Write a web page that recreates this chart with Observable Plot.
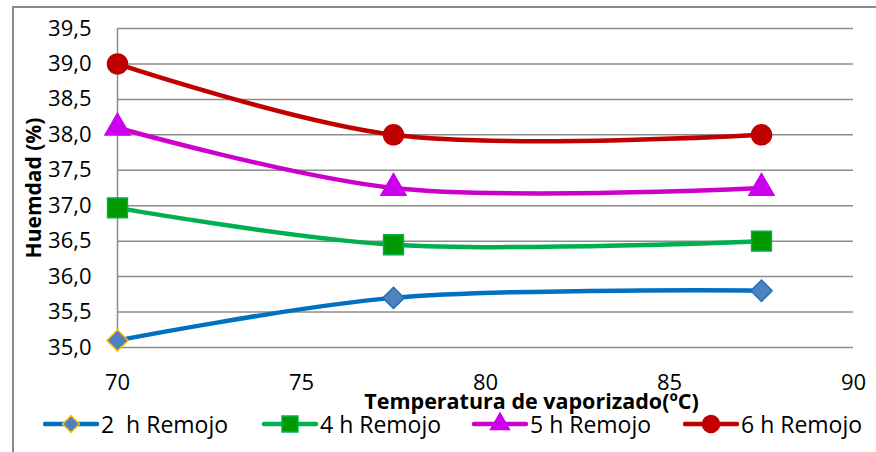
<!DOCTYPE html>
<html>
<head>
<meta charset="utf-8">
<script src="https://cdn.jsdelivr.net/npm/d3@7"></script>
<script src="https://cdn.jsdelivr.net/npm/@observablehq/plot@0.6"></script>
<style>
  html, body { margin: 0; padding: 0; background: #fff; }
  #wrap { position: relative; width: 876px; height: 452px; overflow: hidden; font-family: "Open Sans", sans-serif; }
  #frame { position: absolute; left: 12px; top: 6px; width: 900px; height: 500px; border-left: 2px solid #8a8a8a; border-top: 2px solid #8a8a8a; box-sizing: border-box; }
  #chart { position: absolute; left: 0; top: 0; }
  .leg { position: absolute; top: 411px; height: 26px; display: flex; align-items: center; font-size: 23px; white-space: pre; color: #000; }
  .leg svg { display: block; }
</style>
</head>
<body>
<div id="wrap">
  <div id="frame"></div>
  <div id="chart"></div>
  <div id="legend"></div>
</div>
<script>
// ---- data ----
const temperatures = [70, 77.5, 87.5];
const seriesNames = ["2  h Remojo", "4 h Remojo", "5 h Remojo", "6 h Remojo"];
const remojo2h = [35.1, 35.7, 35.8];
const remojo4h = [36.97, 36.45, 36.5];
const remojo5h = [38.1, 37.25, 37.25];
const remojo6h = [39.0, 38.0, 38.0];
const yTicks = [35, 35.5, 36, 36.5, 37, 37.5, 38, 38.5, 39, 39.5];
const xTicks = [70, 75, 80, 85, 90];
const xTitle = "Temperatura de vaporizado(ºC)";
const yTitle = "Huemdad (%)";

// ---- styles ----
const styles = [
  {line: "#0070C0", fill: "#4F81BD", stroke: "#1F6FBF", firstStroke: "#FFC000", symbol: "diamond2", r: 9.6, legendR: 7.6},
  {line: "#00B050", fill: "#009900", stroke: "#00B050", symbol: "square", r: 11.2, legendR: 9},
  {line: "#CC00CC", fill: "#CC00EE", stroke: "#CC00EE", symbol: "triangle", r: 9.3, legendR: 7},
  {line: "#C00000", fill: "#C00000", stroke: "#C00000", symbol: "circle", r: 10, legendR: 8.5}
];

const allValues = [remojo2h, remojo4h, remojo5h, remojo6h];
const rows = seriesNames.flatMap((s, i) => temperatures.map((t, j) => ({series: s, idx: i, j, temp: t, value: allValues[i][j]})));

const fmt = d => d3.format(".1f")(d).replace(".", ",");

const marks = [
  Plot.ruleY(yTicks, {stroke: "#8c8c8c", strokeWidth: 1.5, strokeOpacity: 1}),
  Plot.ruleX([70], {stroke: "#8c8c8c", strokeWidth: 1.5, strokeOpacity: 1}),
  Plot.axisY({ticks: yTicks, tickSize: 0, tickPadding: 26, tickFormat: fmt, fontSize: 22, label: null}),
  Plot.axisX({ticks: xTicks, tickSize: 0, tickPadding: 27, fontSize: 22, label: null}),
  Plot.text([yTitle], {frameAnchor: "left", textAnchor: "middle", lineAnchor: "middle", dx: -83, rotate: -90, fontWeight: "bold", fontSize: 21, text: d => d}),
  Plot.text([xTitle], {frameAnchor: "bottom", textAnchor: "middle", lineAnchor: "middle", dx: 46, dy: 55, fontWeight: "bold", fontSize: 21.5, text: d => d})
];

seriesNames.forEach((s, i) => {
  const st = styles[i];
  const data = rows.filter(d => d.idx === i);
  marks.push(Plot.line(data, {x: "temp", y: "value", stroke: st.line, strokeWidth: 4.5, curve: "catmull-rom"}));
});
seriesNames.forEach((s, i) => {
  const st = styles[i];
  const data = rows.filter(d => d.idx === i);
  marks.push(Plot.dot(data, {x: "temp", y: "value", symbol: st.symbol, r: st.r, fill: st.fill, stroke: d => (st.firstStroke && d.j === 0) ? st.firstStroke : st.stroke, strokeWidth: 1.5}));
});

const chart = Plot.plot({
  width: 876,
  height: 452,
  marginLeft: 117,
  marginRight: 23,
  marginTop: 28,
  marginBottom: 105,
  x: {domain: [70, 90], axis: null},
  y: {domain: [35, 39.5], axis: null},
  color: {type: "identity"},
  style: {fontFamily: "Open Sans, sans-serif", color: "#000", background: "transparent", overflow: "visible"},
  marks
});
document.getElementById("chart").appendChild(chart);

// ---- legend ----
const legendPos = [43, 262, 472, 683];
const legend = document.getElementById("legend");
seriesNames.forEach((s, i) => {
  const st = styles[i];
  const item = document.createElement("div");
  item.className = "leg";
  item.style.left = legendPos[i] + "px";
  const sw = d3.create("svg").attr("width", 58).attr("height", 26);
  sw.append("line").attr("x1", 2).attr("x2", 54).attr("y1", 13).attr("y2", 13)
    .attr("stroke", st.line).attr("stroke-width", 4.5).attr("stroke-linecap", "round");
  const symMap = {diamond2: d3.symbolDiamond2, square: d3.symbolSquare, triangle: d3.symbolTriangle, circle: d3.symbolCircle};
  sw.append("path").attr("transform", "translate(28,13)")
    .attr("d", d3.symbol(symMap[st.symbol], Math.PI * st.legendR * st.legendR)())
    .attr("fill", st.fill).attr("stroke", st.firstStroke || st.stroke).attr("stroke-width", 1.5);
  item.appendChild(sw.node());
  const label = document.createElement("span");
  label.textContent = s;
  item.appendChild(label);
  legend.appendChild(item);
});
</script>
</body>
</html>
